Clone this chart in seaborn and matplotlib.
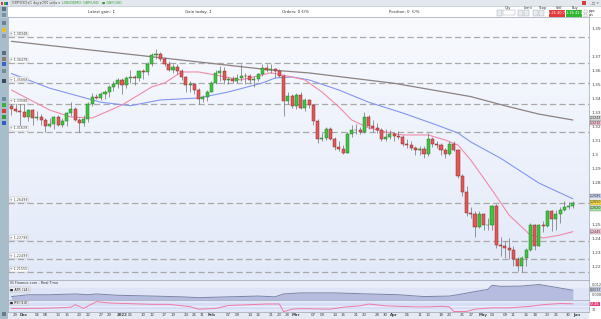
import matplotlib
matplotlib.use("Agg")
import matplotlib.pyplot as plt
import matplotlib.transforms as mtransforms
from matplotlib.colors import LinearSegmentedColormap
from matplotlib.patches import Rectangle
import numpy as np
import seaborn as sns

# GBP/USD daily candles, 26 Nov 2021 (index 0) .. 31 May 2022 (index 132)
opens = [1.3340, 1.3325, 1.3305, 1.3300, 1.3265, 1.3315, 1.3260, 1.3265, 1.3245, 1.3200,
         1.3215, 1.3265, 1.3210, 1.3235, 1.3290, 1.3325, 1.3240, 1.3225, 1.3250, 1.3355,
         1.3405, 1.3400, 1.3430, 1.3440, 1.3480, 1.3500, 1.3530, 1.3490, 1.3540, 1.3550,
         1.3545, 1.3590, 1.3585, 1.3640, 1.3710, 1.3715, 1.3680, 1.3640, 1.3600, 1.3620,
         1.3590, 1.3550, 1.3490, 1.3500, 1.3460, 1.3390, 1.3405, 1.3445, 1.3510, 1.3580,
         1.3595, 1.3530, 1.3535, 1.3525, 1.3545, 1.3560, 1.3555, 1.3530, 1.3535, 1.3570,
         1.3615, 1.3600, 1.3605, 1.3595, 1.3560, 1.3380, 1.3415, 1.3340, 1.3420, 1.3330,
         1.3385, 1.3350, 1.3235, 1.3110, 1.3115, 1.3180, 1.3110, 1.3050, 1.3035, 1.3010,
         1.3145, 1.3170, 1.3175, 1.3160, 1.3265, 1.3200, 1.3185, 1.3170, 1.3110, 1.3120,
         1.3145, 1.3130, 1.3125, 1.3075, 1.3065, 1.3045, 1.3030, 1.3035, 1.3000, 1.3110,
         1.3070, 1.3065, 1.3030, 1.3000, 1.3070, 1.3030, 1.2840, 1.2730, 1.2580, 1.2570,
         1.2480, 1.2575, 1.2490, 1.2495, 1.2630, 1.2350, 1.2340, 1.2330, 1.2315, 1.2250,
         1.2200, 1.2260, 1.2315, 1.2490, 1.2345, 1.2490, 1.2485, 1.2590, 1.2535, 1.2575,
         1.2600, 1.2620, 1.2630]
highs = [1.3372, 1.3372, 1.3374, 1.3370, 1.3325, 1.3320, 1.3305, 1.3285, 1.3260, 1.3255,
         1.3275, 1.3280, 1.3255, 1.3300, 1.3375, 1.3335, 1.3260, 1.3280, 1.3370, 1.3435,
         1.3430, 1.3440, 1.3460, 1.3490, 1.3520, 1.3545, 1.3545, 1.3560, 1.3600, 1.3565,
         1.3600, 1.3605, 1.3655, 1.3720, 1.3749, 1.3730, 1.3690, 1.3665, 1.3640, 1.3640,
         1.3610, 1.3555, 1.3520, 1.3510, 1.3475, 1.3420, 1.3455, 1.3520, 1.3600, 1.3630,
         1.3620, 1.3550, 1.3560, 1.3570, 1.3643, 1.3580, 1.3575, 1.3555, 1.3580, 1.3645,
         1.3640, 1.3640, 1.3615, 1.3610, 1.3570, 1.3440, 1.3430, 1.3435, 1.3440, 1.3400,
         1.3395, 1.3360, 1.3250, 1.3150, 1.3190, 1.3190, 1.3125, 1.3090, 1.3065, 1.3160,
         1.3210, 1.3215, 1.3195, 1.3300, 1.3280, 1.3240, 1.3225, 1.3185, 1.3180, 1.3175,
         1.3160, 1.3165, 1.3135, 1.3105, 1.3095, 1.3060, 1.3055, 1.3055, 1.3148, 1.3125,
         1.3090, 1.3080, 1.3040, 1.3090, 1.3090, 1.3035, 1.2855, 1.2770, 1.2620, 1.2590,
         1.2590, 1.2580, 1.2545, 1.2638, 1.2640, 1.2410, 1.2380, 1.2400, 1.2340, 1.2265,
         1.2275, 1.2330, 1.2505, 1.2500, 1.2500, 1.2525, 1.2600, 1.2600, 1.2600, 1.2620,
         1.2665, 1.2660, 1.2665]
lows = [1.3278, 1.3298, 1.3194, 1.3262, 1.3235, 1.3210, 1.3245, 1.3210, 1.3160, 1.3190,
        1.3180, 1.3200, 1.3190, 1.3200, 1.3270, 1.3235, 1.3160, 1.3200, 1.3230, 1.3345,
        1.3390, 1.3385, 1.3395, 1.3410, 1.3450, 1.3470, 1.3430, 1.3470, 1.3505, 1.3490,
        1.3525, 1.3535, 1.3565, 1.3630, 1.3680, 1.3665, 1.3630, 1.3590, 1.3580, 1.3575,
        1.3530, 1.3440, 1.3440, 1.3430, 1.3360, 1.3370, 1.3380, 1.3440, 1.3500, 1.3520,
        1.3500, 1.3500, 1.3505, 1.3510, 1.3520, 1.3500, 1.3510, 1.3480, 1.3520, 1.3560,
        1.3585, 1.3580, 1.3545, 1.3550, 1.3273, 1.3355, 1.3330, 1.3320, 1.3320, 1.3310,
        1.3330, 1.3210, 1.3080, 1.3090, 1.3100, 1.3100, 1.3030, 1.3020, 1.3000, 1.3005,
        1.3120, 1.3140, 1.3140, 1.3150, 1.3180, 1.3160, 1.3150, 1.3090, 1.3090, 1.3105,
        1.3090, 1.3105, 1.3055, 1.3045, 1.3030, 1.2990, 1.2995, 1.2975, 1.2985, 1.3050,
        1.3040, 1.2990, 1.2970, 1.2990, 1.3020, 1.2830, 1.2700, 1.2560, 1.2540, 1.2410,
        1.2470, 1.2455, 1.2460, 1.2460, 1.2330, 1.2275, 1.2260, 1.2250, 1.2200, 1.2165,
        1.2155, 1.2200, 1.2310, 1.2315, 1.2340, 1.2440, 1.2480, 1.2450, 1.2460, 1.2510,
        1.2590, 1.2605, 1.2615]
closes = [1.3325, 1.3305, 1.3300, 1.3265, 1.3315, 1.3260, 1.3265, 1.3245, 1.3200, 1.3215,
          1.3265, 1.3210, 1.3235, 1.3290, 1.3325, 1.3240, 1.3225, 1.3250, 1.3355, 1.3405,
          1.3400, 1.3430, 1.3440, 1.3480, 1.3500, 1.3530, 1.3490, 1.3540, 1.3550, 1.3545,
          1.3590, 1.3585, 1.3640, 1.3710, 1.3715, 1.3680, 1.3640, 1.3600, 1.3620, 1.3590,
          1.3550, 1.3490, 1.3500, 1.3460, 1.3390, 1.3405, 1.3445, 1.3510, 1.3580, 1.3595,
          1.3530, 1.3535, 1.3525, 1.3545, 1.3560, 1.3555, 1.3530, 1.3535, 1.3570, 1.3615,
          1.3600, 1.3605, 1.3595, 1.3560, 1.3380, 1.3415, 1.3340, 1.3420, 1.3330, 1.3385,
          1.3350, 1.3235, 1.3110, 1.3115, 1.3180, 1.3110, 1.3050, 1.3035, 1.3010, 1.3145,
          1.3170, 1.3175, 1.3160, 1.3265, 1.3200, 1.3185, 1.3170, 1.3110, 1.3120, 1.3145,
          1.3130, 1.3125, 1.3075, 1.3065, 1.3045, 1.3030, 1.3035, 1.3000, 1.3110, 1.3070,
          1.3065, 1.3030, 1.3000, 1.3070, 1.3030, 1.2840, 1.2730, 1.2580, 1.2570, 1.2480,
          1.2575, 1.2490, 1.2495, 1.2630, 1.2350, 1.2340, 1.2330, 1.2315, 1.2250, 1.2200,
          1.2260, 1.2315, 1.2490, 1.2345, 1.2490, 1.2485, 1.2590, 1.2535, 1.2575, 1.2600,
          1.2620, 1.2630, 1.2650]

# moving averages
sma200_idx = [0, 35, 61, 70, 90, 108, 116, 124, 132]
sma200_val = [1.3805, 1.3688, 1.3600, 1.3579, 1.3505, 1.3410, 1.3345, 1.3285, 1.3243]
sma50_idx = [0, 9, 21, 28, 35, 44, 51, 59, 62, 66, 70, 77, 84, 92, 100, 105, 108, 115, 124, 132]
sma50_val = [1.3575, 1.3470, 1.3370, 1.3345, 1.3386, 1.3400, 1.3443, 1.3507, 1.3543, 1.3550,
             1.3529, 1.3457, 1.3370, 1.3293, 1.3207, 1.3150, 1.3086, 1.2970, 1.2793, 1.2680]
sma20_idx = [0, 9, 14, 19, 26, 33, 36, 40, 44, 48, 54, 61, 66, 69, 73, 77, 80, 84, 88, 92,
             98, 102, 105, 108, 113, 117, 122, 125, 129, 132]
sma20_val = [1.3457, 1.3314, 1.3264, 1.3257, 1.3350, 1.3479, 1.3507, 1.3586, 1.3586, 1.3564,
             1.3529, 1.3580, 1.3550, 1.3529, 1.3443, 1.3336, 1.3243, 1.3186, 1.3157, 1.3136,
             1.3136, 1.3100, 1.3064, 1.2957, 1.2743, 1.2564, 1.2421, 1.2400, 1.2421, 1.2445]

# lower panes
atr_idx = [0, 4, 9, 15, 18, 20, 25, 33, 40, 44, 51, 58, 62, 64, 68, 76, 84, 91, 97, 103,
           106, 109, 112, 113, 115, 120, 124, 127, 132]
atr_val = [0.0073, 0.0080, 0.0080, 0.0083, 0.0080, 0.0083, 0.0078, 0.0075, 0.0072, 0.0069,
           0.0072, 0.0075, 0.0072, 0.0083, 0.0087, 0.0087, 0.0083, 0.0080, 0.0073, 0.0075,
           0.0083, 0.0092, 0.0100, 0.0116, 0.0112, 0.0113, 0.0119, 0.0111, 0.0097]
rsi_idx = [0, 7, 11, 14, 15, 17, 20, 23, 28, 33, 37, 42, 44, 48, 51, 56, 60, 63, 64, 66, 68,
           75, 78, 82, 84, 88, 91, 95, 98, 101, 103, 104, 107, 109, 113, 117, 122, 125, 129, 132]
rsi_val = [34, 35, 38, 42, 57, 35, 75, 67, 63, 59, 59, 45, 30, 34, 52, 57, 61, 61, 15, 30, 33,
           30, 42, 50, 61, 50, 47, 44, 44, 47, 44, 16, 16, 30, 38, 38, 47, 57, 64, 62]

# horizontal levels
level_prices = [1.3835, 1.3648, 1.3507, 1.3355, 1.3160, 1.2650, 1.2380, 1.2250, 1.2155]
level_labels = ["1.38348", "1.36478", "1.35068", "1.33588", "1.31639", "1.26499", "1.23799",
                "1.22499", "1.21555"]
price_ticks = [1.22, 1.23, 1.24, 1.25, 1.28, 1.29, 1.30, 1.31, 1.32, 1.33, 1.34, 1.35,
               1.36, 1.37, 1.39]

tick_idx = [1, 3, 6, 8, 11, 13, 16, 18, 21, 23, 26, 28, 31, 33, 36, 38, 41, 43, 46, 47, 51, 53,
            56, 58, 61, 63, 66, 67, 71, 73, 76, 78, 81, 83, 86, 88, 90, 93, 96, 98, 101, 103,
            106, 108, 111, 113, 116, 118, 121, 123, 126, 128, 131, 133]
tick_text = ["29", "Dec", "06", "08", "13", "15", "20", "22", "27", "29", "2022", "05", "10",
             "12", "17", "19", "24", "26", "31", "Feb", "07", "09", "14", "16", "21", "23", "28",
             "Mar", "07", "09", "14", "16", "21", "23", "28", "30", "Apr", "06", "11", "13",
             "18", "20", "25", "27", "May", "04", "09", "11", "16", "18", "23", "25", "30", "Jun"]

sns.set_theme(style="white")
plt.rcParams["font.family"] = ["DejaVu Sans"]

W, H = 601, 319
fig = plt.figure(figsize=(W / 100, H / 100), dpi=100)
fig.patch.set_facecolor("white")


def rect(x0, y0, x1, y1):
    return [x0 / W, 1 - y1 / H, (x1 - x0) / W, (y1 - y0) / H]


def px_to_price(y):
    return 1.30 - (y - 154) / 1400


def style_spines(a):
    for s in a.spines.values():
        s.set_color("#9ba5b5")
        s.set_linewidth(0.5)
    a.set_xlabel("")
    a.set_ylabel("")


# ---- window chrome (pixel coordinates) ----
chrome = fig.add_axes([0, 0, 1, 1])
chrome.set_xlim(0, W)
chrome.set_ylim(H, 0)
chrome.axis("off")
chrome.add_patch(Rectangle((0, 0), W, 6, color="#e3e8ee", lw=0))
chrome.plot([0, W], [6, 6], color="#b9c3cc", lw=0.5)
chrome.plot([0, W], [17, 17], color="#c8d0d8", lw=0.5)
chrome.add_patch(Rectangle((0, 6), 8, H - 6, color="#a8bdca", lw=0))
for yy, cc in [(9, "#5d7183"), (15, "#7d8f9f"), (23, "#6e8296"), (30, "#e2bd36"),
               (36, "#8a9aa8"), (53, "#5a6e80"), (59, "#8a7d6e"), (64, "#3a64c8"),
               (71, "#7a8a98"), (81, "#3a4a5a"), (99, "#6a8aa0"), (105, "#3ab03a"),
               (111, "#d04040"), (117, "#3a9a3a"), (123, "#3060c0"), (314, "#6a7c8c")]:
    chrome.add_patch(Rectangle((2, yy - 2), 4, 4, color=cc, lw=0))
chrome.add_patch(Rectangle((0, 0), 8, 6, color="#d8e0e6", lw=0))
for x0, cc in [(1, "#d04040"), (3.5, "#3ab03a"), (6, "#3060c0")]:
    chrome.add_patch(Rectangle((x0, 1.5), 2, 3, color=cc, lw=0))
small = dict(fontsize=2.8, color="#333333", va="center")
for xx, ww, tt in [(11, 16, "GBP/USD \u25be"), (29, 10, "1 day \u25be"), (41, 14, "200 units \u25be")]:
    chrome.add_patch(Rectangle((xx, 1), ww, 4, facecolor="#f4f6f8", edgecolor="#9aa4ae", lw=0.3))
    chrome.text(xx + 0.8, 3, tt, fontsize=2.3, color="#333333", va="center")
chrome.text(62, 3, "LIVE/DEMO: GBP/USD", fontsize=2.4, color="#2e9e2e", va="center")
chrome.text(102, 3, "\u25a0 GBP/USD", fontsize=2.4, color="#2e9e2e", va="center")
for xx, tt in [(88, "Latest gain: \u2195"), (185, "Gain today: \u2195"), (282, "Orders: 0 \u20ac/%"),
               (389, "Position: 0  \u20ac/%")]:
    chrome.text(xx, 12, tt, **small)
for xx, tt in [(505, "Qty"), (524, "Limit"), (539, "Stop"), (556, "Sell"), (572, "Buy")]:
    chrome.text(xx, 8, tt, fontsize=2.5, color="#333333", va="center")
chrome.add_patch(Rectangle((503, 10), 12, 5, facecolor="white", edgecolor="#9aa4ae", lw=0.3))
for xx in [497, 518, 524, 533, 539]:
    chrome.add_patch(Rectangle((xx, 10), 5, 6, facecolor="#e8ecef", edgecolor="#9aa4ae", lw=0.3))
chrome.add_patch(Rectangle((549, 10), 16, 7, color="#e23b3b", lw=0))
chrome.add_patch(Rectangle((566, 10), 16, 7, color="#2fb82f", lw=0))
chrome.text(557, 13.5, "1.26 40.7", fontsize=2.6, color="white", ha="center", va="center")
chrome.text(574, 13.5, "1.26 41.8", fontsize=2.6, color="white", ha="center", va="center")
for yy in [10, 14]:
    chrome.add_patch(Rectangle((584, yy), 3, 3, facecolor="white", edgecolor="#8a949e", lw=0.3))
chrome.text(589, 11, "pips", fontsize=2.3, color="#333333", va="center")
chrome.text(589, 15, "pts", fontsize=2.3, color="#333333", va="center")
chrome.add_patch(Rectangle((582, 0.5), 4, 4, color="#d04040", lw=0))
chrome.text(589, 2.5, "_ \u25a1 \u00d7", fontsize=2.5, color="#555555", va="center")

# ---- price pane ----
idx = np.arange(len(closes))
o = np.array(opens)
c = np.array(closes)
up = c >= o
xlim = (-0.8, 135.8)
ylim = (px_to_price(280), px_to_price(17))

ax = fig.add_axes(rect(8, 17, 589, 280))
grad = LinearSegmentedColormap.from_list("bg", ["#f8fafe", "#e2e9f8"])
ax.imshow(np.linspace(0, 1, 200).reshape(-1, 1), cmap=grad, aspect="auto",
          extent=[xlim[0], xlim[1], ylim[0], ylim[1]], zorder=0)

for p in level_prices:
    ax.axhline(p, color="#a9a9a9", lw=0.9, dashes=(5, 2.6), zorder=1)

sns.lineplot(x=sma200_idx, y=sma200_val, ax=ax, color="#8c8282", lw=0.9, zorder=2)
sns.lineplot(x=sma50_idx, y=sma50_val, ax=ax, color="#8496f2", lw=0.8, zorder=2)
sns.lineplot(x=sma20_idx, y=sma20_val, ax=ax, color="#f28aa8", lw=0.8, zorder=2)

ax.vlines(idx, lows, highs, color="#6f6f6f", lw=0.5, zorder=3)
body = np.maximum(np.abs(c - o), 0.00025)
ax.bar(idx, body, bottom=np.minimum(o, c), width=0.72,
       color=np.where(up, "#3ec43e", "#e25858"),
       edgecolor=np.where(up, "#2b7d2b", "#8e2c2c"), lw=0.35, zorder=4)

ax.set_xlim(*xlim)
ax.set_ylim(*ylim)
ax.set_xticks([])
ax.yaxis.tick_right()
ax.set_yticks(price_ticks)
ax.set_yticklabels([f"{v:.2f}".rstrip("0") for v in price_ticks])
ax.tick_params(axis="y", labelsize=3.2, colors="#444444", length=1, width=0.3, pad=1)
style_spines(ax)

blend = mtransforms.blended_transform_factory(ax.transAxes, ax.transData)
for p, lab in zip(level_prices, level_labels):
    ax.text(0.004, p + 0.0008, "+ " + lab, transform=blend, fontsize=2.3, color="#444444",
            va="bottom", zorder=5,
            bbox=dict(boxstyle="square,pad=0.15", fc="white", ec="#b0b0b0", lw=0.3))

# value tags on the right axis
for p, lab, fc in [(1.3255, "1.3243", "#d9d9d9"), (1.3222, "1.3215", "#f6c4d2"),
                   (1.2700, "1.2686", "#cdd6fb"), (1.2655, "1.2650", "#f2d640"),
                   (1.2612, "1.2620", "#9fe59f"), (1.2445, "1.2445", "#f8c8d6")]:
    ax.text(1.002, p, lab, transform=blend, fontsize=2.3, color="#333333", va="center",
            clip_on=False, bbox=dict(boxstyle="square,pad=0.1", fc=fc, ec="#8a8a8a", lw=0.3))

# legend row
lx = [10, 18, 30, 49, 66, 82]
ltxt = ["", "Price", "SMA (200)", "SMA (50)", "SMA (20)", "SMA (200)"]
lcol = ["#8a8a8a", "#3ec43e", "#e23b3b", "#2040e0", "#e8307a", "#111111"]
for xx, tt, cc in zip(lx, ltxt, lcol):
    chrome.add_patch(Rectangle((xx, 18), 14 if tt else 6, 4.5, facecolor="#e9ecef",
                               edgecolor="#b8bec4", lw=0.3, zorder=10))
    chrome.add_patch(Rectangle((xx + 1, 19), 2.5, 2.5, color=cc, lw=0, zorder=11))
    chrome.text(xx + 4.5, 20.3, tt, fontsize=2.4, color="#333333", va="center", zorder=11)

# ---- ATR pane ----
ax_atr = fig.add_axes(rect(8, 280, 589, 300))
ax_atr.set_facecolor("#dfe5f7")
ax_atr.axhspan(0.0105, 0.0136, color="#e8ecf9", lw=0, zorder=0)
sns.lineplot(x=atr_idx, y=atr_val, ax=ax_atr, color="#7b84a6", lw=0.7, zorder=3)
ax_atr.fill_between(atr_idx, atr_val, 0.0, color="#b5bce0", lw=0, zorder=2)
ax_atr.set_xlim(*xlim)
ax_atr.set_ylim(0.006, 0.0136)
ax_atr.set_xticks([])
ax_atr.yaxis.tick_right()
ax_atr.set_yticks([0.008, 0.012])
ax_atr.set_yticklabels(["0.008", "0.012"])
ax_atr.tick_params(axis="y", labelsize=2.5, colors="#444444", length=1, width=0.3, pad=1)
ax_atr.text(1.002, 0.0099, "0.0097", transform=mtransforms.blended_transform_factory(
    ax_atr.transAxes, ax_atr.transData), fontsize=2.3, va="center", color="#333333",
    clip_on=False, bbox=dict(boxstyle="square,pad=0.1", fc="#c9cfe8", ec="#8a8a8a", lw=0.3))
ax_atr.text(0.004, 0.93, "IG Finance.com - Real Time", transform=ax_atr.transAxes,
            fontsize=2.5, color="#333333", va="top")
ax_atr.text(0.004, 0.62, "\u25a0 ATR (14)", transform=ax_atr.transAxes, fontsize=2.4,
            color="#222222", va="top",
            bbox=dict(boxstyle="square,pad=0.15", fc="#eef0f4", ec="#b0b0b0", lw=0.3))
style_spines(ax_atr)

# ---- RSI pane ----
ax_rsi = fig.add_axes(rect(8, 300, 589, 312))
ax_rsi.set_facecolor("#e2e7f8")
ax_rsi.axhspan(30, 70, color="#d6ddf6", lw=0, zorder=0)
ax_rsi.axhline(50, color="#eef1fb", lw=0.8, zorder=1)
sns.lineplot(x=rsi_idx, y=rsi_val, ax=ax_rsi, color="#f07aa8", lw=0.7, zorder=3)
ax_rsi.set_xlim(*xlim)
ax_rsi.set_ylim(13, 85)
ax_rsi.yaxis.tick_right()
ax_rsi.set_yticks([30])
ax_rsi.set_yticklabels(["30"])
ax_rsi.tick_params(axis="y", labelsize=2.4, colors="#444444", length=1, width=0.3, pad=1)
ax_rsi.text(1.002, 60, "57.46", transform=mtransforms.blended_transform_factory(
    ax_rsi.transAxes, ax_rsi.transData), fontsize=2.3, va="center", color="white",
    clip_on=False, bbox=dict(boxstyle="square,pad=0.1", fc="#e8407a", ec="none"))
ax_rsi.text(0.004, 0.92, "\u25a0 RSI (14)", transform=ax_rsi.transAxes, fontsize=2.3,
            color="#222222", va="top",
            bbox=dict(boxstyle="square,pad=0.1", fc="#eef0f4", ec="#b0b0b0", lw=0.3))

# date labels: digit labels right before a month label are nudged left
ax_rsi.set_xticks(tick_idx)
ax_rsi.set_xticklabels([])
ax_rsi.tick_params(axis="x", length=1, width=0.3, colors="#444444")
date_tf = mtransforms.blended_transform_factory(ax_rsi.transData, ax_rsi.transAxes)
for k, (ti, tt) in enumerate(zip(tick_idx, tick_text)):
    is_month = not tt.isdigit() or tt == "2022"
    nxt = tick_text[k + 1] if k + 1 < len(tick_text) else "00"
    shift = -0.6 if (not is_month and tick_idx[min(k + 1, len(tick_idx) - 1)] - ti == 1
                     and not nxt.isdigit()) else 0.0
    ax_rsi.text(ti + shift, -0.12, tt, transform=date_tf, fontsize=2.8, color="#444444",
                ha="right" if shift else "center", va="top",
                fontweight="bold" if is_month else "normal")
style_spines(ax_rsi)

chrome.add_patch(Rectangle((8, 312), 581, 7, color="#e6ebf3", lw=0, zorder=-1))

fig.savefig("out.png", dpi=100)
